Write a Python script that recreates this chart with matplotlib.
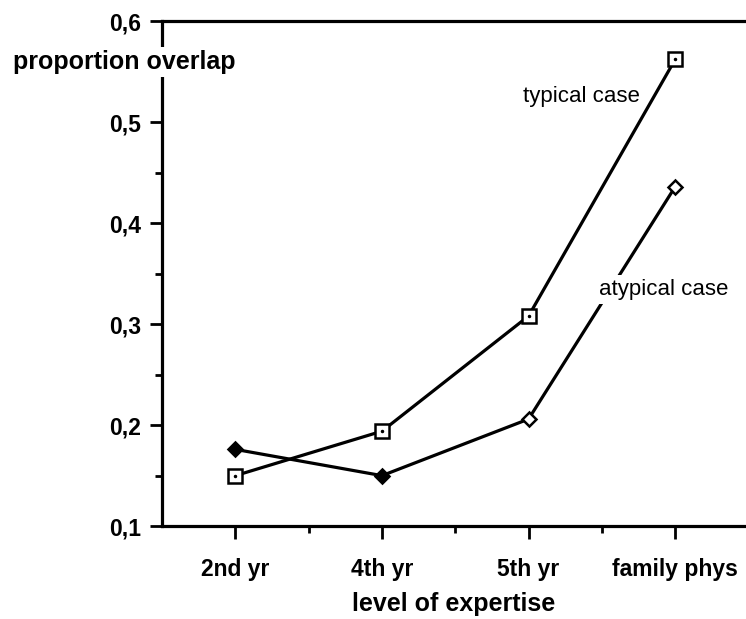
import numpy as np
import matplotlib
matplotlib.use("Agg")
import matplotlib.pyplot as plt
from matplotlib.ticker import MultipleLocator, FuncFormatter

# values
levels = ["2nd yr", "4th yr", "5th yr", "family phys"]
typical = [0.150, 0.194, 0.308, 0.562]
atypical = [0.176, 0.150, 0.206, 0.436]
atypical_fill = ["black", "black", "white", "white"]

plt.rcParams["font.family"] = ["Liberation Sans", "DejaVu Sans"]

fig = plt.figure(figsize=(7.46, 6.19), dpi=100)
ax = fig.add_axes([0.2172, 0.150, 0.7828, 0.816])

x = np.arange(len(levels))

# typical case: open squares with a dot inside
ax.plot(x, typical, color="black", lw=2.3, marker="s", ms=9.5,
        mfc="white", mec="black", mew=1.8, zorder=3)
ax.plot(x, typical, ls="none", marker=".", ms=3, color="black", zorder=4)

# atypical case: diamonds, first two filled
ax.plot(x, atypical, color="black", lw=2.3, zorder=3)
for xi, yi, fc in zip(x, atypical, atypical_fill):
    ax.plot(xi, yi, marker="D", ms=7, mfc=fc, mec="black", mew=1.8, zorder=4)

ax.set_xlim(-0.5, 3.483)
ax.set_ylim(0.1, 0.6)
ax.set_xticks(x)
ax.set_xticklabels(levels)
ax.set_xticks([0.5, 1.5, 2.5], minor=True)
ax.yaxis.set_major_locator(MultipleLocator(0.1))
ax.yaxis.set_minor_locator(MultipleLocator(0.05))
ax.yaxis.set_major_formatter(FuncFormatter(lambda v, p: f"{v:.1f}".replace(".", ",")))

for lab in ax.get_xticklabels() + ax.get_yticklabels():
    lab.set_fontsize(16.5)
    lab.set_fontweight("bold")

ax.tick_params(which="major", direction="out", length=9, width=2, pad=6, color="black")
ax.tick_params(which="minor", direction="out", length=5, width=2, color="black")
ax.tick_params(axis="x", pad=14)

for side in ["left", "bottom", "top"]:
    ax.spines[side].set_linewidth(2.3)
ax.spines["right"].set_visible(False)

ax.set_xlabel("level of expertise", fontsize=18, fontweight="bold", labelpad=8)

fig.text(0.017, 0.900, "proportion overlap", fontsize=18, fontweight="bold",
         ha="left", va="center", zorder=10,
         bbox=dict(facecolor="white", edgecolor="none", pad=2))

ax.text(2.36, 0.525, "typical case", fontsize=16, ha="center", va="center", zorder=5,
        bbox=dict(facecolor="white", edgecolor="none", pad=2))
ax.text(2.92, 0.334, "atypical case", fontsize=16, ha="center", va="center", zorder=5,
        bbox=dict(facecolor="white", edgecolor="none", pad=3))

fig.savefig("out.png", dpi=100)
